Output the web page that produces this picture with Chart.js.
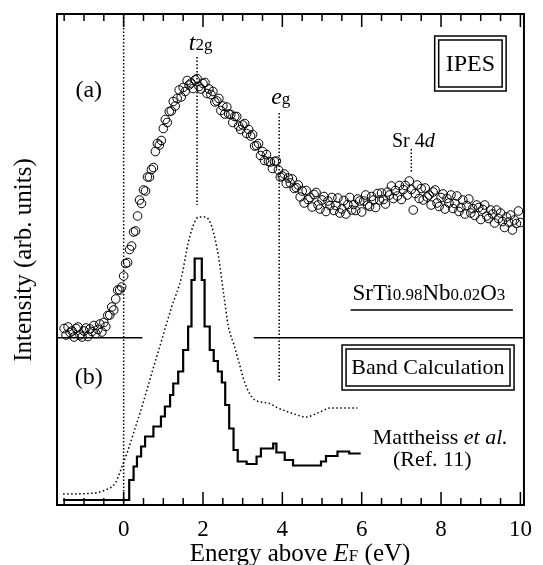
<!DOCTYPE html>
<html>
<head>
<meta charset="utf-8">
<title>IPES SrTi0.98Nb0.02O3</title>
<script src="https://cdn.jsdelivr.net/npm/chart.js@4.4.1/dist/chart.umd.min.js"></script>
<style>
  html, body { margin: 0; padding: 0; background: #fff; }
</style>
</head>
<body>
<canvas id="chart" width="543" height="565"></canvas>
<script>
// IPES spectrum (a), energy in eV, intensity in arb. units
const ipesEnergy = [
  -1.5, -1.45, -1.4, -1.35, -1.3, -1.25, -1.2, -1.15, -1.1, -1.05,
  -1.0, -0.95, -0.9, -0.85, -0.8, -0.75, -0.7, -0.65, -0.6, -0.55,
  -0.5, -0.45, -0.4, -0.35, -0.3, -0.25, -0.2, -0.15, -0.1, -0.05,
  0.0, 0.05, 0.1, 0.15, 0.2, 0.25, 0.3, 0.35, 0.4, 0.45,
  0.5, 0.55, 0.6, 0.65, 0.7, 0.75, 0.8, 0.85, 0.9, 0.95,
  1.0, 1.05, 1.1, 1.15, 1.2, 1.25, 1.3, 1.35, 1.4, 1.45,
  1.5, 1.55, 1.6, 1.65, 1.7, 1.75, 1.8, 1.85, 1.9, 1.95,
  2.0, 2.05, 2.1, 2.15, 2.2, 2.25, 2.3, 2.35, 2.4, 2.45,
  2.5, 2.55, 2.6, 2.65, 2.7, 2.75, 2.8, 2.85, 2.9, 2.95,
  3.0, 3.05, 3.1, 3.15, 3.2, 3.25, 3.3, 3.35, 3.4, 3.45,
  3.5, 3.55, 3.6, 3.65, 3.7, 3.75, 3.8, 3.85, 3.9, 3.95,
  4.0, 4.05, 4.1, 4.15, 4.2, 4.25, 4.3, 4.35, 4.4, 4.45,
  4.5, 4.55, 4.6, 4.65, 4.7, 4.75, 4.8, 4.85, 4.9, 4.95,
  5.0, 5.05, 5.1, 5.15, 5.2, 5.25, 5.3, 5.35, 5.4, 5.45,
  5.5, 5.55, 5.6, 5.65, 5.7, 5.75, 5.8, 5.85, 5.9, 5.95,
  6.0, 6.05, 6.1, 6.15, 6.2, 6.25, 6.3, 6.35, 6.4, 6.45,
  6.5, 6.55, 6.6, 6.65, 6.7, 6.75, 6.8, 6.85, 6.9, 6.95,
  7.0, 7.05, 7.1, 7.15, 7.2, 7.25, 7.3, 7.35, 7.4, 7.45,
  7.5, 7.55, 7.6, 7.65, 7.7, 7.75, 7.8, 7.85, 7.9, 7.95,
  8.0, 8.05, 8.1, 8.15, 8.2, 8.25, 8.3, 8.35, 8.4, 8.45,
  8.5, 8.55, 8.6, 8.65, 8.7, 8.75, 8.8, 8.85, 8.9, 8.95,
  9.0, 9.05, 9.1, 9.15, 9.2, 9.25, 9.3, 9.35, 9.4, 9.45,
  9.5, 9.55, 9.6, 9.65, 9.7, 9.75, 9.8, 9.85, 9.9, 9.95,
  10.0
];
const ipesIntensity = [
  35.3, 34.0, 35.6, 34.5, 34.8, 33.6, 35.3, 35.6, 34.0, 33.6,
  34.8, 35.4, 33.7, 35.2, 34.7, 35.9, 34.3, 35.1, 36.2, 34.6,
  36.5, 35.7, 37.9, 38.0, 39.6, 39.0, 41.2, 43.0, 43.0, 43.6,
  45.8, 48.3, 48.5, 51.1, 51.8, 54.6, 54.8, 57.8, 61.0, 60.3,
  63.0, 62.8, 65.6, 65.6, 67.1, 67.5, 70.7, 72.3, 72.0, 72.9,
  75.3, 77.1, 76.5, 78.7, 78.8, 80.7, 79.8, 81.3, 83.0, 81.6,
  83.5, 82.7, 84.9, 84.0, 84.4, 83.3, 85.0, 85.3, 83.7, 83.2,
  84.3, 84.5, 82.3, 83.2, 82.1, 82.7, 80.6, 80.8, 81.3, 78.9,
  79.8, 78.2, 79.6, 78.2, 78.1, 76.5, 77.7, 77.7, 75.8, 75.1,
  76.0, 76.3, 74.3, 75.1, 73.8, 74.1, 71.8, 71.9, 72.3, 69.9,
  70.7, 68.9, 70.1, 68.7, 68.6, 67.3, 68.7, 68.8, 67.0, 65.6,
  65.8, 66.2, 64.3, 65.4, 64.4, 65.2, 63.3, 63.5, 64.0, 61.6,
  62.8, 60.4, 62.9, 61.1, 61.5, 59.6, 62.1, 62.5, 60.0, 59.2,
  61.0, 61.7, 58.7, 60.8, 59.9, 61.5, 58.9, 59.9, 61.4, 58.4,
  59.2, 60.9, 58.2, 60.1, 61.5, 59.0, 60.1, 58.9, 61.2, 60.8,
  58.6, 60.8, 62.0, 60.0, 59.7, 61.7, 61.0, 59.5, 62.3, 61.0,
  62.4, 61.1, 60.2, 62.6, 62.0, 63.8, 61.3, 62.9, 61.8, 63.9,
  61.1, 63.1, 63.9, 62.0, 64.8, 63.1, 59.0, 62.3, 64.0, 61.3,
  63.3, 61.0, 63.4, 61.6, 62.0, 60.0, 62.6, 63.0, 60.4, 59.7,
  61.5, 62.2, 59.2, 61.3, 60.4, 62.0, 59.3, 60.3, 61.8, 58.7,
  59.5, 61.0, 58.2, 59.9, 61.2, 58.4, 59.3, 57.9, 60.0, 59.5,
  57.1, 59.1, 60.0, 57.8, 57.3, 59.0, 58.2, 56.4, 59.0, 57.3,
  58.4, 56.7, 55.5, 57.6, 56.6, 58.0, 55.0, 57.0, 56.3, 58.8,
  56.5
];

// (b) broadened band DOS (dotted)
const broadEnergy = [-1.525, -0.875, -0.46, -0.21, -0.04, 0.085, 0.25, 0.46, 0.71, 0.96, 1.21, 1.46, 1.625, 1.79, 1.89, 2.06, 2.225, 2.39, 2.52, 2.64, 2.77, 2.89, 3.06, 3.31, 3.64, 3.89, 4.23, 4.6, 4.89, 5.225, 5.89];
const broadIntensity = [2.2, 2.3, 3.0, 4.4, 7.7, 10.4, 14.4, 19.6, 26.4, 33.0, 39.6, 45.6, 52.4, 56.6, 57.6, 57.6, 55.6, 49.7, 42.3, 35.7, 32.3, 29.0, 24.3, 21.0, 20.4, 19.4, 18.4, 17.6, 18.4, 19.4, 19.4];

// (b) band DOS histogram: bin start energies and heights
const bandEnergy = [-1.525, 0.14, 0.25, 0.335, 0.44, 0.54, 0.75, 0.94, 1.04, 1.17, 1.25, 1.375, 1.5, 1.625, 1.71, 1.79, 1.97, 2.04, 2.17, 2.27, 2.375, 2.475, 2.56, 2.66, 2.77, 2.875, 3.1, 3.35, 3.46, 3.77, 3.85, 4.06, 4.27, 4.975, 5.1, 5.39, 5.685, 5.975];
const bandIntensity = [1.0, 5.0, 7.7, 9.7, 11.7, 13.7, 15.7, 17.7, 19.7, 22.0, 24.3, 26.7, 31.0, 35.7, 45.0, 49.3, 45.0, 35.7, 31.0, 28.8, 26.7, 24.5, 20.0, 15.3, 11.0, 8.7, 8.2, 9.7, 11.3, 12.3, 10.5, 9.0, 7.9, 8.7, 9.8, 10.7, 10.3, 10.3];

// axis
const xMin = -1.68;
const xMax = 10.09;
const yMax = 98.2;
const xTicks = [-1.5, -1, -0.5, 0, 0.5, 1, 1.5, 2, 2.5, 3, 3.5, 4, 4.5, 5, 5.5, 6, 6.5, 7, 7.5, 8, 8.5, 9, 9.5, 10];
const xTickLabels = [0, 2, 4, 6, 8, 10];

// reference lines: [energy, from, to]
const fermiEnergy = 0;
const peakMarks = [[1.85, 89.6, 60.0], [3.92, 78.4, 24.6], [7.25, 71.2, 66.5]];
const dividerLevel = 33.46;
const dividerSegments = [[xMin, 0.47], [3.28, xMax]];

const serif = '"Liberation Serif", "Times New Roman", serif';
const font = (size, italic) => `${italic ? "italic " : ""}${size}px ${serif}`;

function drawRuns(ctx, runs, x, y, align) {
  const widths = runs.map((r) => {
    ctx.font = r[1];
    return ctx.measureText(r[0]).width;
  });
  const total = widths.reduce((s, w) => s + w, 0);
  let cx = align === "center" ? x - total / 2 : x;
  ctx.textAlign = "left";
  ctx.textBaseline = "alphabetic";
  runs.forEach((r, i) => {
    ctx.font = r[1];
    ctx.fillText(r[0], cx, y);
    cx += widths[i];
  });
}

function doubleBox(ctx, x0, y0, x1, y1) {
  ctx.setLineDash([]);
  ctx.lineWidth = 1.5;
  ctx.strokeRect(x0, y0, x1 - x0, y1 - y0);
  ctx.strokeRect(x0 + 4, y0 + 4, x1 - x0 - 8, y1 - y0 - 8);
}

const decor = {
  id: "decor",
  afterDatasetsDraw(chart) {
    const { ctx, chartArea: a } = chart;
    const x = chart.scales.x;
    const y = chart.scales.y;
    const px = (v) => x.getPixelForValue(v);
    const py = (v) => y.getPixelForValue(v);
    ctx.save();
    ctx.strokeStyle = "#000";
    ctx.fillStyle = "#000";

    // dotted reference lines
    ctx.lineWidth = 1.5;
    ctx.setLineDash([1.5, 2]);
    ctx.beginPath();
    ctx.moveTo(px(fermiEnergy), a.top);
    ctx.lineTo(px(fermiEnergy), a.bottom);
    peakMarks.forEach(([e, top, bottom]) => {
      ctx.moveTo(px(e), py(top));
      ctx.lineTo(px(e), py(bottom));
    });
    ctx.stroke();

    // divider between panels
    ctx.setLineDash([]);
    ctx.lineWidth = 1.5;
    ctx.beginPath();
    dividerSegments.forEach(([e0, e1]) => {
      ctx.moveTo(px(e0), py(dividerLevel));
      ctx.lineTo(px(e1), py(dividerLevel));
    });
    ctx.stroke();

    // frame and inward ticks
    ctx.lineWidth = 2;
    ctx.strokeRect(a.left, a.top, a.right - a.left, a.bottom - a.top);
    ctx.lineWidth = 1.5;
    ctx.beginPath();
    xTicks.forEach((v) => {
      const len = xTickLabels.includes(v) ? 13 : 7;
      const p = px(v);
      ctx.moveTo(p, a.bottom);
      ctx.lineTo(p, a.bottom - len);
      ctx.moveTo(p, a.top);
      ctx.lineTo(p, a.top + len);
    });
    ctx.stroke();

    // labels
    ctx.font = font(24);
    ctx.textAlign = "center";
    ctx.textBaseline = "middle";
    ctx.fillText("(a)", px(-0.88), py(82.8));
    ctx.fillText("(b)", px(-0.88), py(25.4));

    drawRuns(ctx, [["t", font(24, true)], ["2g", font(17)]], px(1.94), py(91), "center");
    drawRuns(ctx, [["e", font(24, true)], ["g", font(17)]], px(3.96), py(80.3), "center");
    drawRuns(ctx, [["Sr 4", font(20)], ["d", font(20, true)]], px(7.3), py(71.7), "center");

    doubleBox(ctx, px(7.84), py(93.8), px(9.64), py(82.8));
    ctx.font = font(24);
    ctx.textAlign = "center";
    ctx.textBaseline = "middle";
    ctx.fillText("IPES", px(8.74), py(88.2) + 1);

    drawRuns(ctx, [["SrTi", font(23)], ["0.98", font(17)], ["Nb", font(23)], ["0.02", font(17)], ["O", font(23)], ["3", font(17)]], px(5.77), py(41), "left");
    ctx.lineWidth = 1.5;
    ctx.beginPath();
    ctx.moveTo(px(5.72), py(39));
    ctx.lineTo(px(9.81), py(39));
    ctx.stroke();

    doubleBox(ctx, px(5.505), py(32), px(9.84), py(23));
    ctx.font = font(22);
    ctx.textAlign = "center";
    ctx.textBaseline = "middle";
    ctx.fillText("Band Calculation", px(7.67), py(27.5) + 1);

    drawRuns(ctx, [["Mattheiss ", font(22)], ["et al.", font(22, true)]], px(6.28), py(12.2), "left");
    drawRuns(ctx, [["(Ref. 11)", font(22)]], px(6.79), py(7.8), "left");

    // axis titles
    drawRuns(ctx, [["Energy above ", font(25)], ["E", font(25, true)], ["F", font(17)], [" (eV)", font(25)]], 300, 561, "center");
    ctx.translate(24, 260);
    ctx.rotate(-Math.PI / 2);
    ctx.font = font(25);
    ctx.textAlign = "center";
    ctx.textBaseline = "middle";
    ctx.fillText("Intensity (arb. units)", 0, 0);
    ctx.restore();
  },
};

new Chart(document.getElementById("chart"), {
  type: "scatter",
  data: {
    datasets: [
      {
        label: "IPES",
        data: ipesEnergy.map((e, i) => ({ x: e, y: ipesIntensity[i] })),
        showLine: false,
        pointRadius: 4.3,
        pointBorderWidth: 1,
        pointBorderColor: "#000",
        pointBackgroundColor: "rgba(0,0,0,0)",
      },
      {
        label: "Broadened",
        type: "line",
        data: broadEnergy.map((e, i) => ({ x: e, y: broadIntensity[i] })),
        borderColor: "#000",
        borderWidth: 1.5,
        borderDash: [1.5, 2.5],
        cubicInterpolationMode: "monotone",
        pointRadius: 0,
        fill: false,
      },
      {
        label: "Band DOS",
        type: "line",
        data: bandEnergy.map((e, i) => ({ x: e, y: bandIntensity[i] })),
        borderColor: "#000",
        borderWidth: 2.2,
        stepped: true,
        pointRadius: 0,
        fill: false,
      },
    ],
  },
  options: {
    responsive: false,
    animation: false,
    layout: { padding: { left: 57, top: 14, right: 15, bottom: 0 } },
    plugins: { legend: { display: false }, tooltip: { enabled: false } },
    scales: {
      x: {
        type: "linear",
        min: xMin,
        max: xMax,
        afterBuildTicks: (scale) => {
          scale.ticks = xTicks.map((v) => ({ value: v }));
        },
        afterFit: (scale) => {
          scale.height = 60;
        },
        grid: { display: false, drawTicks: false },
        border: { display: false },
        ticks: {
          autoSkip: false,
          maxRotation: 0,
          padding: 11,
          color: "#000",
          font: { family: serif, size: 23 },
          callback: (v) => (xTickLabels.includes(v) ? String(v) : ""),
        },
      },
      y: { display: false, min: 0, max: yMax },
    },
  },
  plugins: [decor],
});
</script>
</body>
</html>
